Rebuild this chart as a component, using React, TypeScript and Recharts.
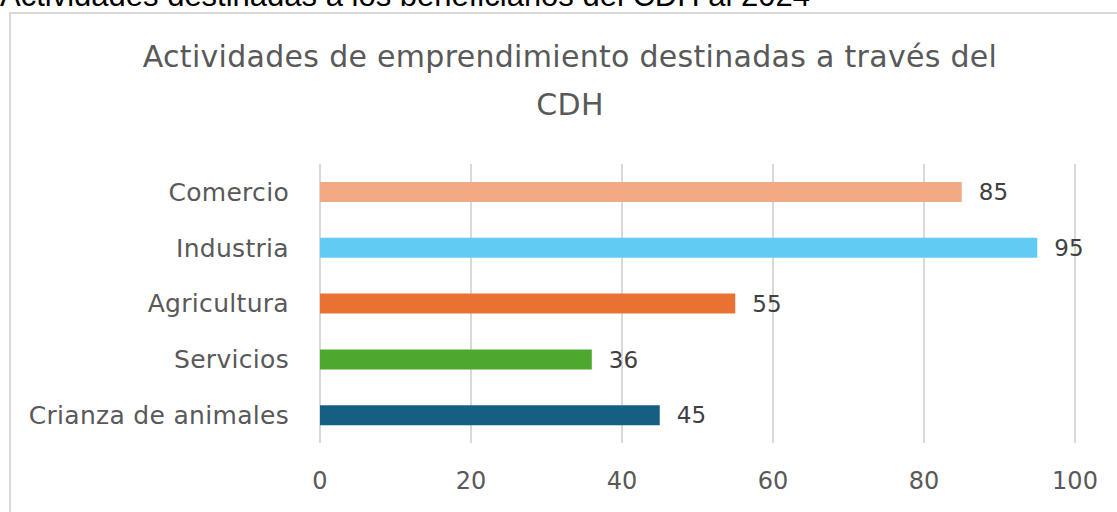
import { BarChart, Bar, XAxis, YAxis, CartesianGrid, Cell, LabelList } from "recharts";

// categories, top to bottom
const categories = ["Comercio", "Industria", "Agricultura", "Servicios", "Crianza de animales"];
const values = [85, 95, 55, 36, 45];
const barColors = ["#F2AA84", "#61CBF4", "#E97132", "#4EA72E", "#156082"];
const xTicks = [0, 20, 40, 60, 80, 100];

const data = categories.map((name, i) => ({ name, value: values[i] }));

const FONT = "'DejaVu Sans', sans-serif";

export default function App() {
  return (
    <div style={{ position: "absolute", left: 0, top: 0, width: 1117, height: 512, overflow: "hidden", background: "#fff" }}>
      {/* caption above the chart, cut off by the page top */}
      <div
        style={{
          position: "absolute",
          left: 0,
          top: -22,
          fontFamily: "'Liberation Sans', Arial, sans-serif",
          fontSize: 31,
          lineHeight: "36px",
          color: "#000",
          whiteSpace: "nowrap",
        }}
      >
        Actividades destinadas a los beneficiarios del CDH al 2024
      </div>
      {/* chart frame */}
      <div style={{ position: "absolute", left: 9, top: 12, width: 1200, height: 600, border: "2px solid #d9d9d9" }} />
      <div
        style={{
          position: "absolute",
          left: 70,
          top: 33,
          width: 1000,
          textAlign: "center",
          fontFamily: FONT,
          fontSize: 30,
          letterSpacing: 0.3,
          lineHeight: "48px",
          color: "#595959",
        }}
      >
        Actividades de emprendimiento destinadas a través del
        <br />
        CDH
      </div>
      <div style={{ position: "absolute", left: 0, top: 0 }}>
        <BarChart
          width={1117}
          height={512}
          data={data}
          layout="vertical"
          margin={{ top: 164, right: 42, bottom: 0, left: 0 }}
        >
          <CartesianGrid horizontal={false} stroke="#d9d9d9" strokeWidth={2} />
          <XAxis
            type="number"
            domain={[0, 100]}
            ticks={xTicks}
            axisLine={false}
            tickLine={false}
            tickSize={0}
            tickMargin={29}
            height={69}
            tick={{ fill: "#595959", fontSize: 24, fontFamily: FONT }}
          />
          <YAxis
            type="category"
            dataKey="name"
            width={320}
            axisLine={false}
            tickLine={false}
            tickSize={0}
            tickMargin={31}
            tick={{ fill: "#595959", fontSize: 25, fontFamily: FONT, letterSpacing: 0.3 }}
          />
          <Bar dataKey="value" barSize={20} isAnimationActive={false}>
            {data.map((d, i) => (
              <Cell key={d.name} fill={barColors[i]} />
            ))}
            <LabelList
              dataKey="value"
              position="right"
              offset={17}
              fill="#404040"
              fontSize={23}
              fontFamily={FONT}
            />
          </Bar>
        </BarChart>
      </div>
    </div>
  );
}
